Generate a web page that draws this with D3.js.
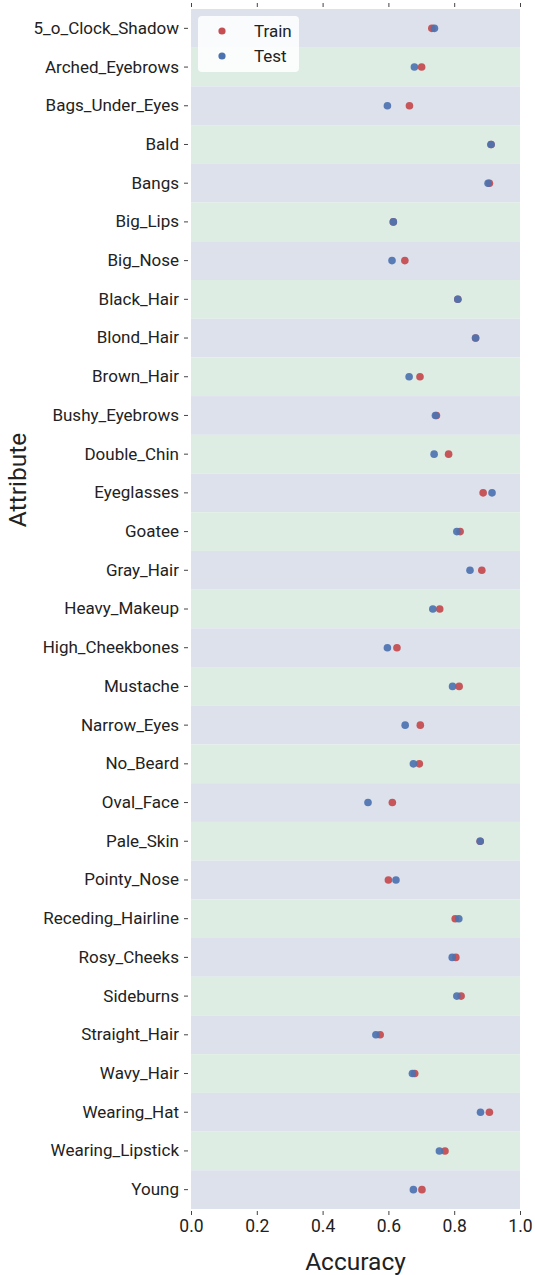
<!DOCTYPE html>
<html>
<head>
<meta charset="utf-8">
<script src="https://d3js.org/d3.v7.min.js"></script>
<style>
  body { margin: 0; background: #fff; }
  svg text { font-family: Roboto, "Noto Sans", sans-serif; fill: #222; }
</style>
</head>
<body>
<svg id="chart" width="535" height="1275"></svg>
<script>
// attributes, top to bottom
var attributes = ["5_o_Clock_Shadow", "Arched_Eyebrows", "Bags_Under_Eyes", "Bald", "Bangs",
  "Big_Lips", "Big_Nose", "Black_Hair", "Blond_Hair", "Brown_Hair", "Bushy_Eyebrows",
  "Double_Chin", "Eyeglasses", "Goatee", "Gray_Hair", "Heavy_Makeup", "High_Cheekbones",
  "Mustache", "Narrow_Eyes", "No_Beard", "Oval_Face", "Pale_Skin", "Pointy_Nose",
  "Receding_Hairline", "Rosy_Cheeks", "Sideburns", "Straight_Hair", "Wavy_Hair",
  "Wearing_Hat", "Wearing_Lipstick", "Young"];

var trainAcc = [0.732, 0.701, 0.664, 0.912, 0.907, 0.615, 0.650, 0.811, 0.865, 0.696, 0.746,
  0.783, 0.888, 0.818, 0.884, 0.756, 0.626, 0.815, 0.697, 0.694, 0.612, 0.879, 0.600,
  0.803, 0.805, 0.821, 0.575, 0.680, 0.907, 0.772, 0.702];

var testAcc = [0.740, 0.679, 0.597, 0.912, 0.903, 0.615, 0.611, 0.811, 0.865, 0.663, 0.743,
  0.739, 0.915, 0.808, 0.848, 0.735, 0.597, 0.795, 0.651, 0.676, 0.538, 0.879, 0.623,
  0.814, 0.794, 0.808, 0.562, 0.673, 0.880, 0.755, 0.676];

var xTicks = [0, 0.2, 0.4, 0.6, 0.8, 1.0];

// plot box (note: "top" is a reserved window global, so use plot* names)
var plotLeft = 191, plotRight = 520, plotTop = 9, plotBottom = 1209;
var svg = d3.select("#chart");

var x = d3.scaleLinear().domain([0, 1]).range([plotLeft, plotRight]);
var y = d3.scaleBand().domain(attributes).range([plotTop, plotBottom]).padding(0);

// alternating row bands
svg.append("g").selectAll("rect")
  .data(attributes)
  .enter().append("rect")
    .attr("x", plotLeft)
    .attr("y", function(d) { return y(d); })
    .attr("width", plotRight - plotLeft)
    .attr("height", y.bandwidth())
    .attr("fill", function(d, i) { return i % 2 === 0 ? "#dce1ec" : "#ddede3"; });

// y axis
var yAxis = svg.append("g")
  .attr("transform", "translate(" + (plotLeft - 3) + ",0)")
  .call(d3.axisLeft(y).tickSize(4).tickPadding(5));
yAxis.select(".domain").remove();
yAxis.selectAll("text").style("font-size", "17px");
yAxis.selectAll("line").attr("stroke", "#444");

// x axis bottom + top ticks
var xAxis = svg.append("g")
  .attr("transform", "translate(0," + (plotBottom + 2) + ")")
  .call(d3.axisBottom(x).tickValues(xTicks).tickFormat(d3.format(".1f")).tickSize(4).tickPadding(5));
xAxis.select(".domain").remove();
xAxis.selectAll("text").style("font-size", "17.5px");
xAxis.selectAll("line").attr("stroke", "#444");

var xTop = svg.append("g")
  .attr("transform", "translate(0," + (plotTop - 2) + ")")
  .call(d3.axisTop(x).tickValues(xTicks).tickFormat("").tickSize(4));
xTop.select(".domain").remove();
xTop.selectAll("line").attr("stroke", "#444");

// points: train first, test drawn over it
var rowMid = function(i) { return y(attributes[i]) + y.bandwidth() / 2; };

svg.append("g").selectAll("circle")
  .data(trainAcc)
  .enter().append("circle")
    .attr("cx", function(d) { return x(d); })
    .attr("cy", function(d, i) { return rowMid(i); })
    .attr("r", 3.8)
    .attr("fill", "#c44e52")
    .attr("opacity", 0.95);

svg.append("g").selectAll("circle")
  .data(testAcc)
  .enter().append("circle")
    .attr("cx", function(d) { return x(d); })
    .attr("cy", function(d, i) { return rowMid(i); })
    .attr("r", 3.8)
    .attr("fill", "#4c72b0")
    .attr("opacity", 0.92);

// axis titles
svg.append("text")
  .attr("x", (plotLeft + plotRight) / 2)
  .attr("y", 1270)
  .attr("text-anchor", "middle")
  .style("font-size", "24.5px")
  .text("Accuracy");

svg.append("text")
  .attr("transform", "translate(26,480) rotate(-90)")
  .attr("text-anchor", "middle")
  .style("font-size", "24.5px")
  .text("Attribute");

// legend
var legend = svg.append("g");
legend.append("rect")
  .attr("x", 198).attr("y", 16)
  .attr("width", 101).attr("height", 56)
  .attr("rx", 4)
  .attr("fill", "#fff")
  .attr("opacity", 0.85);

var series = [{ name: "Train", color: "#c44e52" }, { name: "Test", color: "#4c72b0" }];
var entry = legend.selectAll("g.entry")
  .data(series)
  .enter().append("g")
    .attr("class", "entry")
    .attr("transform", function(d, i) { return "translate(0," + (31 + i * 25) + ")"; });
entry.append("circle")
  .attr("cx", 222).attr("r", 3.6)
  .attr("fill", function(d) { return d.color; });
entry.append("text")
  .attr("x", 254).attr("dy", "0.35em")
  .style("font-size", "17px")
  .text(function(d) { return d.name; });
</script>
</body>
</html>
